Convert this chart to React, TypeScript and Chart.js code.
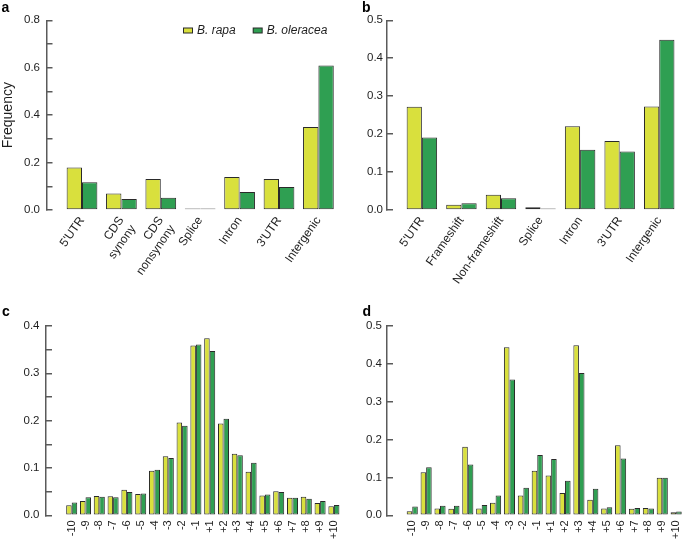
import React, { useEffect, useRef } from 'react';
import { Chart, registerables } from 'chart.js';

Chart.register(...registerables);

// ---------- data ----------
const seriesNames = ['B. rapa', 'B. oleracea'];

const featureLabelsA: (string | string[])[] = ["5'UTR", ['CDS', 'synony'], ['CDS', 'nonsynony'], 'Splice', 'Intron', "3'UTR", 'Intergenic'];
const rapaA = [0.179, 0.070, 0.131, 0.002, 0.139, 0.131, 0.350];
const oleraceaA = [0.117, 0.046, 0.052, 0.002, 0.076, 0.097, 0.609];

const featureLabelsB = ["5'UTR", 'Frameshift', 'Non-frameshift', 'Splice', 'Intron', "3'UTR", 'Intergenic'];
const rapaB = [0.272, 0.014, 0.040, 0.007, 0.221, 0.182, 0.273];
const oleraceaB = [0.191, 0.018, 0.031, 0.004, 0.159, 0.154, 0.449];

const positionLabels = ['-10', '-9', '-8', '-7', '-6', '-5', '-4', '-3', '-2', '-1', '+1', '+2', '+3', '+4', '+5', '+6', '+7', '+8', '+9', '+10'];
const rapaC = [0.021, 0.030, 0.041, 0.040, 0.054, 0.045, 0.094, 0.125, 0.196, 0.359, 0.374, 0.194, 0.130, 0.092, 0.042, 0.051, 0.037, 0.039, 0.026, 0.019];
const oleraceaC = [0.027, 0.038, 0.039, 0.038, 0.049, 0.046, 0.096, 0.121, 0.189, 0.361, 0.347, 0.204, 0.127, 0.111, 0.044, 0.049, 0.037, 0.035, 0.030, 0.022];
const rapaD = [0.011, 0.114, 0.018, 0.017, 0.181, 0.018, 0.033, 0.444, 0.052, 0.118, 0.105, 0.059, 0.449, 0.041, 0.018, 0.185, 0.017, 0.019, 0.099, 0.008];
const oleraceaD = [0.023, 0.127, 0.025, 0.025, 0.134, 0.027, 0.052, 0.359, 0.073, 0.159, 0.149, 0.091, 0.376, 0.070, 0.021, 0.150, 0.019, 0.018, 0.099, 0.010];

// y axis: [max, tick step, label step]
const yAxisA = [0.8, 0.1, 0.2];
const yAxisB = [0.5, 0.1, 0.1];
const yAxisC = [0.4, 0.05, 0.1];
const yAxisD = [0.5, 0.1, 0.1];

// ---------- styles ----------
const FONT = '"Liberation Sans", Arial, Helvetica, sans-serif';
const RAPA_COLOR = '#d9e03d';
const OLERACEA_COLOR = '#2f9f52';
const EDGE = '#2a2a2a';
const AXIS = '#5a5a5a';
const TEXT = '#1e1e1e';

Chart.defaults.font.family = FONT;

type Box = { left: number; top: number; w: number; h: number };
type Area = { l: number; t: number; r: number; b: number };
type Panel = {
  letter: string;
  labels: (string | string[])[];
  rapa: number[];
  olera: number[];
  yAxis: number[];
  canvas: Box;
  area: Area; // l/r: extent of the category band, t/b: y max / y 0
  axisX: number;
  labelRight: number;
  rotation: number;
  xFont: number;
  xPad: number;
  catPct: number;
  yTitle?: string;
  legend?: { x: number; y: number };
  letterPos: { x: number; y: number };
};

function makePanelPlugin(bandL: number, bandR: number, legend: { x: number; y: number } | null) {
  return {
    id: 'panelExtras',
    afterLayout(chart: any) {
      // category band starts a little to the right of the y axis line (as in R barplot)
      const x = chart.scales.x;
      x._startPixel = bandL;
      x._endPixel = bandR;
      x._length = bandR - bandL;
    },
    afterDraw(chart: any) {
      if (!legend) return;
      const ctx = chart.ctx as CanvasRenderingContext2D;
      ctx.save();
      let lx = legend.x;
      const ly = legend.y;
      ctx.font = 'italic 12px ' + FONT;
      ctx.textBaseline = 'middle';
      ctx.textAlign = 'left';
      chart.data.datasets.forEach((ds: any) => {
        ctx.fillStyle = EDGE;
        ctx.fillRect(lx, ly - 3, 10, 6);
        ctx.fillStyle = ds.backgroundColor;
        ctx.fillRect(lx + 1, ly - 2, 8, 4);
        ctx.fillStyle = TEXT;
        ctx.fillText(ds.label, lx + 14, ly);
        lx += 14 + ctx.measureText(ds.label).width + 17;
      });
      ctx.restore();
    },
  };
}

function PanelChart({ p }: { p: Panel }) {
  const ref = useRef<HTMLCanvasElement>(null);
  useEffect(() => {
    const c = ref.current!;
    const L = p.canvas.left;
    const T = p.canvas.top;
    const [yMax, yStep, labelStep] = p.yAxis;
    const TICK = 6;
    const chart = new Chart(c, {
      type: 'bar',
      data: {
        labels: p.labels as any,
        datasets: [
          {
            label: seriesNames[0], data: p.rapa, backgroundColor: RAPA_COLOR, borderColor: EDGE,
            borderWidth: 1, borderSkipped: false, barPercentage: 1, categoryPercentage: p.catPct, minBarLength: 1.5,
          },
          {
            label: seriesNames[1], data: p.olera, backgroundColor: OLERACEA_COLOR, borderColor: EDGE,
            borderWidth: 1, borderSkipped: false, barPercentage: 1, categoryPercentage: p.catPct, minBarLength: 1.5,
          },
        ],
      },
      options: {
        responsive: false,
        animation: false,
        devicePixelRatio: 1,
        layout: { padding: { left: 0, top: p.area.t - T, right: L + p.canvas.w - p.area.r, bottom: 0 } },
        plugins: {
          legend: { display: false },
          tooltip: { enabled: false },
        },
        scales: {
          x: {
            offset: true,
            grid: { display: false, drawTicks: false },
            border: { display: false },
            ticks: {
              autoSkip: false,
              minRotation: p.rotation,
              maxRotation: p.rotation,
              padding: p.xPad,
              color: TEXT,
              font: { size: p.xFont, family: FONT },
            },
            afterFit: (s: any) => {
              s.height = T + p.canvas.h - p.area.b;
              s.paddingLeft = 0;
              s.paddingRight = 0;
            },
          },
          y: {
            min: 0,
            max: yMax,
            grid: {
              display: true, drawOnChartArea: false, drawTicks: true, tickLength: -TICK,
              color: AXIS, lineWidth: 1.5,
            },
            border: { display: true, color: AXIS, width: 1.5 },
            ticks: {
              stepSize: yStep,
              autoSkip: false,
              padding: p.axisX + TICK - p.labelRight,
              color: TEXT,
              font: { size: 11.5, family: FONT },
              callback: (v: any) => {
                const k = Math.round(Number(v) * 1000);
                const s = Math.round(labelStep * 1000);
                return k % s === 0 ? Number(v).toFixed(1) : '';
              },
            },
            title: p.yTitle
              ? { display: true, text: p.yTitle, color: TEXT, font: { size: 14, family: FONT }, padding: 0 }
              : { display: false },
            afterFit: (s: any) => {
              s.width = p.axisX - L;
              s.paddingTop = 0;
              s.paddingBottom = 0;
            },
          },
        },
      },
      plugins: [makePanelPlugin(p.area.l - L, p.area.r - L, p.legend ? { x: p.legend.x - L, y: p.legend.y - T } : null)],
    });
    return () => chart.destroy();
  }, []);
  return (
    <>
      <canvas
        ref={ref}
        width={p.canvas.w}
        height={p.canvas.h}
        style={{ position: 'absolute', left: p.canvas.left, top: p.canvas.top, width: p.canvas.w, height: p.canvas.h }}
      />
      <div
        style={{
          position: 'absolute', left: p.letterPos.x, top: p.letterPos.y, font: `bold 14px ${FONT}`,
          lineHeight: '14px', color: '#000',
        }}
      >
        {p.letter}
      </div>
    </>
  );
}

const panels: Panel[] = [
  {
    letter: 'a', labels: featureLabelsA, rapa: rapaA, olera: oleraceaA, yAxis: yAxisA,
    canvas: { left: 0, top: 0, w: 342, h: 300 }, area: { l: 62.3, t: 20.3, r: 338.1, b: 210 },
    axisX: 46.5, labelRight: 40, rotation: 55, xFont: 12, xPad: 4, catPct: 0.78, yTitle: 'Frequency',
    legend: { x: 183, y: 30.5 }, letterPos: { x: 1.5, y: -0.5 },
  },
  {
    letter: 'b', labels: featureLabelsB, rapa: rapaB, olera: oleraceaB, yAxis: yAxisB,
    canvas: { left: 342, top: 0, w: 343, h: 300 }, area: { l: 402.1, t: 20.3, r: 679, b: 210 },
    axisX: 387, labelRight: 383, rotation: 55, xFont: 12, xPad: 4, catPct: 0.77,
    letterPos: { x: 362, y: -0.5 },
  },
  {
    letter: 'c', labels: positionLabels, rapa: rapaC, olera: oleraceaC, yAxis: yAxisC,
    canvas: { left: 0, top: 300, w: 342, h: 241 }, area: { l: 64.8, t: 326, r: 340.8, b: 515.3 },
    axisX: 46, labelRight: 39.5, rotation: 90, xFont: 11, xPad: 5, catPct: 0.8,
    letterPos: { x: 2, y: 304 },
  },
  {
    letter: 'd', labels: positionLabels, rapa: rapaD, olera: oleraceaD, yAxis: yAxisD,
    canvas: { left: 342, top: 300, w: 343, h: 241 }, area: { l: 405.3, t: 326, r: 683.1, b: 515.3 },
    axisX: 387, labelRight: 382, rotation: 90, xFont: 11, xPad: 5, catPct: 0.8,
    letterPos: { x: 362.5, y: 304 },
  },
];

export default function App() {
  return (
    <div style={{ position: 'absolute', left: 0, top: 0, width: 685, height: 541, overflow: 'hidden', background: '#fff' }}>
      {panels.map((p) => (
        <PanelChart key={p.letter} p={p} />
      ))}
    </div>
  );
}
